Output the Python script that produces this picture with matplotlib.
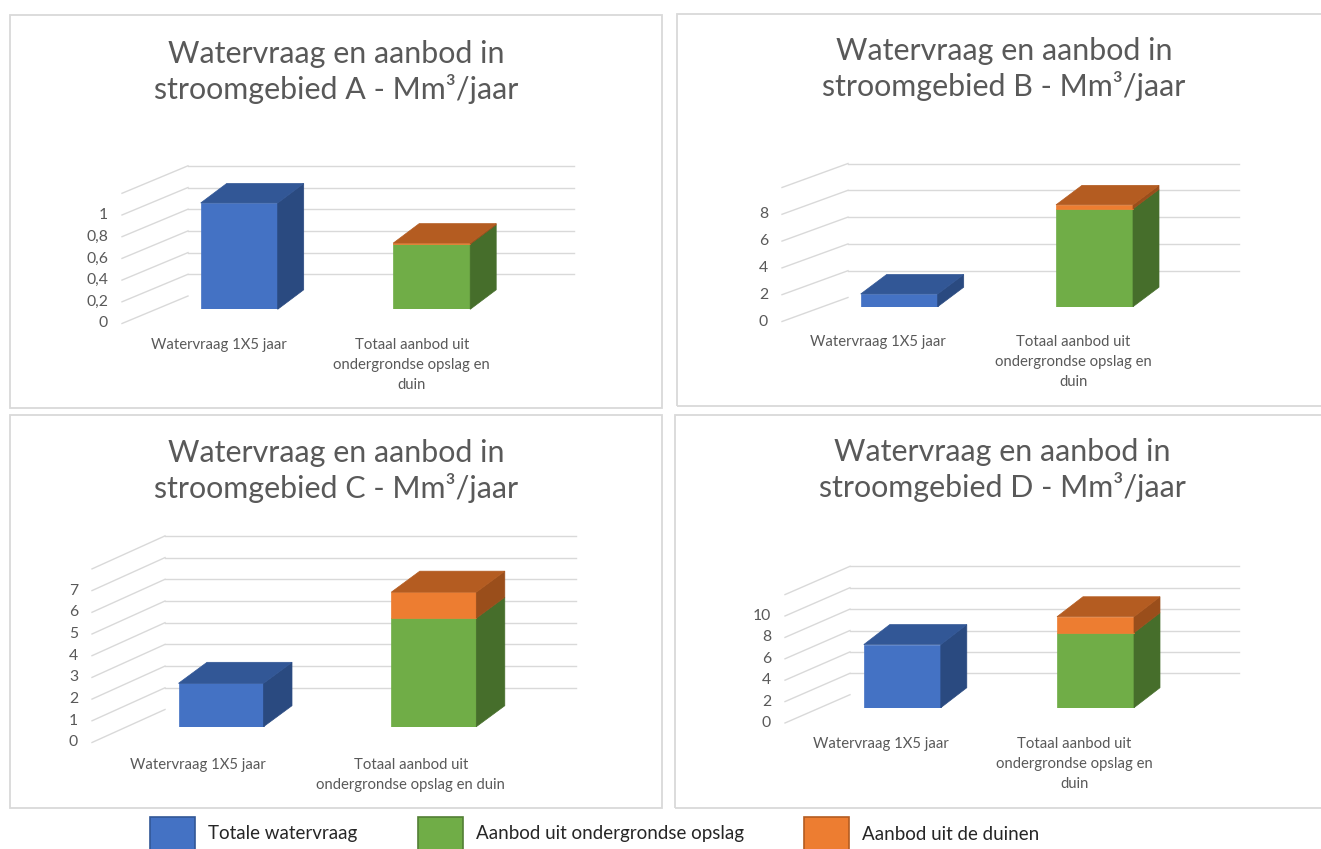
import matplotlib.pyplot as plt
from matplotlib.patches import Rectangle, Polygon
import numpy as np

plt.rcParams['font.family'] = ['Lato', 'DejaVu Sans']

W, H = 1321, 849
GREY = '#595959'
GRID = '#d9d9d9'

# waarden per stroomgebied (Mm3/jaar)
regions = ['A', 'B', 'C', 'D']
demand = [0.98, 0.95, 2.0, 5.9]        # Totale watervraag
underground = [0.60, 7.3, 5.0, 7.0]    # Aanbod uit ondergrondse opslag
dunes = [0.01, 0.3, 1.2, 1.5]          # Aanbod uit de duinen
axis_max = [1.2, 10, 8, 12]
axis_step = [0.2, 2, 1, 2]

cat_demand = 'Watervraag 1X5 jaar'
cat_supply = ['Totaal aanbod uit\nondergrondse opslag en\nduin',
              'Totaal aanbod uit\nondergrondse opslag en\nduin',
              'Totaal aanbod uit\nondergrondse opslag en duin',
              'Totaal aanbod uit\nondergrondse opslag en\nduin']

series_names = ['Totale watervraag', 'Aanbod uit ondergrondse opslag', 'Aanbod uit de duinen']
# front, top, side
blue = ('#4472c4', '#325796', '#2a4a80')
green = ('#70ad47', '#537f35', '#466e2b')
orange = ('#ed7d31', '#b45c21', '#9a4e1b')

# layout in pixels: panel box, title centre, wall corners, bar plane
layout = [
    dict(box=(9.5, 15, 662, 407.5), title=(336, 72), front=(122, 323.5), back=(188, 296), right=574,
         ppu=108.5, centers=(239.2, 431.7), width=77, base=309.3, depth=(26, 19.5), label=(-20, 338)),
    dict(box=(677, 13.5, 1340, 405.5), title=(1004, 69), front=(782, 321.5), back=(848, 297.5), right=1239,
         ppu=13.4, centers=(899.2, 1094.5), width=77, base=306.7, depth=(26, 19.5), label=(-21, 335)),
    dict(box=(9.5, 415.5, 662, 807.5), title=(336, 471), front=(92, 742.5), back=(165, 709.5), right=576,
         ppu=21.7, centers=(221, 433.8), width=85, base=726.7, depth=(28.5, 21), label=(-23, 758)),
    dict(box=(674.5, 415.5, 1340, 807.5), title=(1002, 470), front=(785, 723), back=(850, 694.7), right=1239,
         ppu=10.7, centers=(902.3, 1095.5), width=77, base=707.7, depth=(26, 20), label=(-21, 737)),
]

fig = plt.figure(figsize=(W / 100, H / 100), dpi=100)


def fx(px):
    return px / W


def fy(py):
    return 1 - py / H


def draw_box(ax, x, bottom, height, w, dx, dy, colors, top=True):
    x0, x1 = x - w / 2, x + w / 2
    y1 = bottom + height
    ax.bar(x, height, width=w, bottom=bottom, color=colors[0], edgecolor=colors[0], lw=0.5, zorder=3)
    side = [(x1, bottom), (x1 + dx, bottom + dy), (x1 + dx, y1 + dy), (x1, y1)]
    ax.add_patch(Polygon(side, closed=True, fc=colors[2], ec=colors[2], lw=0.5, zorder=3, clip_on=False))
    if top:
        lid = [(x0, y1), (x0 + dx, y1 + dy), (x1 + dx, y1 + dy), (x1, y1)]
        ax.add_patch(Polygon(lid, closed=True, fc=colors[1], ec=colors[1], lw=0.5, zorder=4, clip_on=False))


for i, lay in enumerate(layout):
    bx0, by0, bx1, by1 = lay['box']
    fig.patches.append(Rectangle((fx(bx0), fy(by1)), fx(bx1 - bx0), (by1 - by0) / H,
                                 transform=fig.transFigure, fill=False, ec=GRID, lw=1.3))
    fig.text(fx(lay['title'][0]), fy(lay['title'][1]),
             'Watervraag en aanbod in\nstroomgebied %s - Mm³/jaar' % regions[i],
             ha='center', va='center', fontsize=21.9, color=GREY, linespacing=1.25)

    ymax, step = axis_max[i], axis_step[i]
    ticks = np.arange(0, ymax + step / 2, step)
    ppu = lay['ppu']
    c0, c1 = lay['centers']
    s = c1 - c0
    left_px, right_px = lay['front'][0], lay['right']
    top_px = lay['base'] - ymax * ppu
    ax = fig.add_axes([fx(left_px), fy(lay['base']), fx(right_px - left_px), (lay['base'] - top_px) / H])
    ax.set_xlim((left_px - c0) / s, (right_px - c0) / s)
    ax.set_ylim(0, ymax)
    ax.axis('off')

    xl, x_end = ax.get_xlim()
    f_dy = (lay['base'] - lay['front'][1]) / ppu
    b_dx = (lay['back'][0] - lay['front'][0]) / s
    b_dy = (lay['base'] - lay['back'][1]) / ppu

    # back wall gridlines and side wall diagonals
    for v in ticks:
        if v > 0:
            ax.plot([xl + b_dx, x_end], [v + b_dy, v + b_dy], color=GRID, lw=1.0, zorder=1, clip_on=False)
        ax.plot([xl, xl + b_dx], [v + f_dy, v + b_dy], color=GRID, lw=1.0, zorder=1, clip_on=False)
        if v < ymax - step / 2:
            lab = ('%g' % round(v, 2)).replace('.', ',')
            ax.text(xl - 14 / s, v + f_dy, lab, ha='right', va='center', fontsize=11.3, color=GREY)

    # 3D columns
    ddx, ddy = lay['depth'][0] / s, lay['depth'][1] / ppu
    w = lay['width'] / s
    draw_box(ax, 0, 0, demand[i], w, ddx, ddy, blue)
    draw_box(ax, 1, 0, underground[i], w, ddx, ddy, green, top=False)
    draw_box(ax, 1, underground[i], dunes[i], w, ddx, ddy, orange)

    # category labels
    ly = (lay['base'] - lay['label'][1]) / ppu
    lx = lay['label'][0] / s
    ax.text(lx, ly, cat_demand, ha='center', va='top', fontsize=10.7, color=GREY)
    ax.text(1 + lx, ly, cat_supply[i], ha='center', va='top', fontsize=10.7, color=GREY,
            linespacing=1.55)

# legend
legend_x = [150, 418, 804]
for name, col, lx in zip(series_names, [blue, green, orange], legend_x):
    fig.patches.append(Rectangle((fx(lx), fy(862)), fx(45), 45 / H, transform=fig.transFigure,
                                 fc=col[0], ec=col[1], lw=1.2))
    fig.text(fx(lx + 58), fy(834), name, ha='left', va='center', fontsize=13.5, color='#262626')

fig.savefig('out.png', dpi=100, facecolor='white')
